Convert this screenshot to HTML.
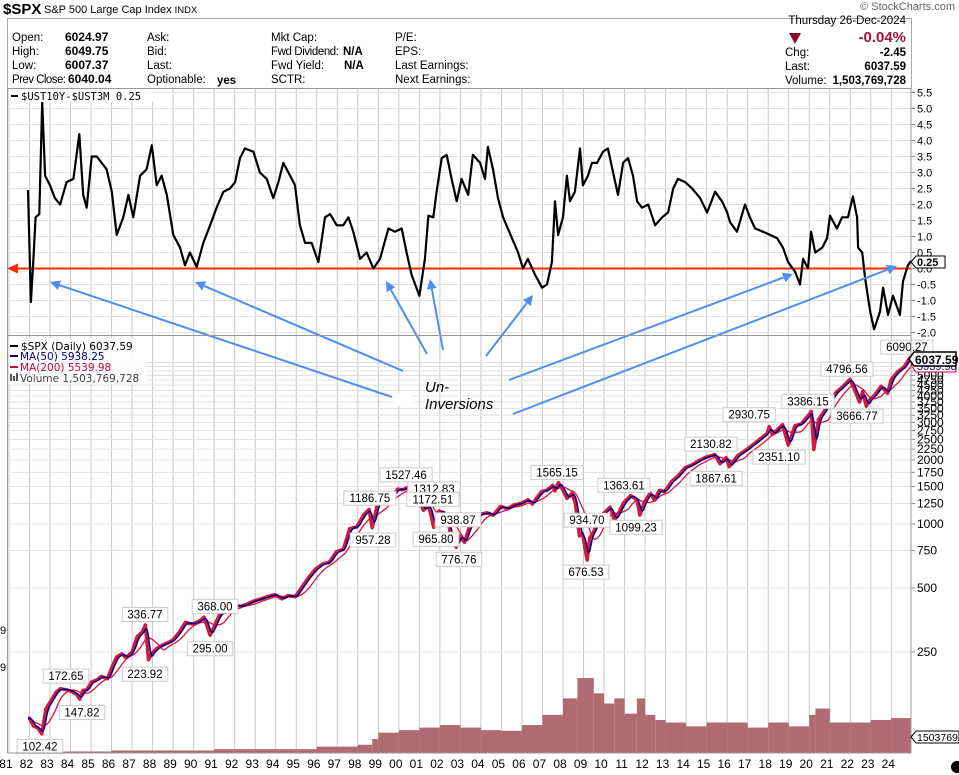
<!DOCTYPE html>
<html><head><meta charset="utf-8"><style>
body{margin:0;background:#fff;width:959px;height:775px;overflow:hidden;font-family:"Liberation Sans",Arial,sans-serif}
svg{position:absolute;left:0;top:0}
</style></head><body>
<svg id="c" width="959" height="775" xmlns="http://www.w3.org/2000/svg" font-family="Liberation Sans, Arial, sans-serif">
<g>
<text x="3" y="14" font-size="15" font-weight="bold">$SPX</text>
<text x="44" y="13" font-size="11">S&amp;P 500 Large Cap Index <tspan font-size="9.5">INDX</tspan></text>
<text x="955" y="10" font-size="11" fill="#666" text-anchor="end">© StockCharts.com</text>
<rect x="7.5" y="18.5" width="904" height="70" fill="none" stroke="#aaa"/>
<g font-size="11.5">
<text x="12" y="41">Open:</text><text x="65" y="41" font-weight="bold" font-size="12">6024.97</text>
<text x="12" y="55">High:</text><text x="65" y="55" font-weight="bold" font-size="12">6049.75</text>
<text x="12" y="69">Low:</text><text x="65" y="69" font-weight="bold" font-size="12">6007.37</text>
<text x="12" y="83" textLength="54">Prev Close:</text><text x="68" y="83" font-weight="bold" font-size="12">6040.04</text>
<text x="147" y="41">Ask:</text><text x="147" y="55">Bid:</text><text x="147" y="69">Last:</text><text x="147" y="83">Optionable:</text><text x="217" y="84" font-weight="bold">yes</text>
<text x="271" y="41">Mkt Cap:</text><text x="271" y="55" textLength="68">Fwd Dividend:</text><text x="343" y="55" font-weight="bold">N/A</text>
<text x="271" y="69">Fwd Yield:</text><text x="344" y="69" font-weight="bold">N/A</text><text x="271" y="83">SCTR:</text>
<text x="395" y="41">P/E:</text><text x="395" y="55">EPS:</text><text x="395" y="69">Last Earnings:</text><text x="395" y="83">Next Earnings:</text>
<text x="906" y="24" text-anchor="end">Thursday  26-Dec-2024</text>
<path d="M789 33 L801 33 L795 44 Z" fill="#8b0a2a"/>
<text x="906" y="42" text-anchor="end" font-size="15" font-weight="bold" fill="#a0153e">-0.04%</text>
<text x="785" y="56">Chg:</text><text x="906" y="56" text-anchor="end" font-weight="bold">-2.45</text>
<text x="785" y="70">Last:</text><text x="906" y="70" text-anchor="end" font-weight="bold">6037.59</text>
<text x="785" y="84">Volume:</text><text x="906" y="84" text-anchor="end" font-weight="bold">1,503,769,728</text>
</g></g>
<g id="grid"></g>
<g id="vol"></g>
<g id="top"></g>
<g id="bot"></g>
<g id="ann"></g>
<g id="axes"></g>
</svg>
<script>
const spreadDates=[1981.93,1982.07,1982.19,1982.30,1982.48,1982.62,1982.76,1983.0,1983.24,1983.49,1983.81,1984.14,1984.43,1984.62,1984.79,1985.03,1985.28,1985.52,1985.76,1986.01,1986.25,1986.57,1986.82,1987.06,1987.39,1987.71,1987.96,1988.20,1988.44,1988.69,1989.01,1989.34,1989.58,1989.82,1990.15,1990.47,1990.80,1991.12,1991.45,1991.77,1992.02,1992.26,1992.50,1992.91,1993.23,1993.56,1993.88,1994.13,1994.37,1994.70,1994.94,1995.18,1995.43,1995.75,1996.08,1996.40,1996.65,1996.97,1997.29,1997.54,1997.78,1998.11,1998.43,1998.76,1999.08,1999.49,1999.81,2000.14,2000.38,2000.62,2001.0,2001.27,2001.44,2001.68,2001.84,2002.09,2002.33,2002.57,2002.82,2003.06,2003.38,2003.61,2003.96,2004.20,2004.34,2004.59,2004.83,2005.08,2005.51,2005.81,2006.05,2006.29,2006.64,2006.98,2007.22,2007.46,2007.61,2007.76,2008.0,2008.19,2008.34,2008.58,2008.83,2008.97,2009.22,2009.41,2009.66,2009.95,2010.19,2010.44,2010.68,2010.93,2011.17,2011.41,2011.61,2011.85,2012.15,2012.49,2012.83,2013.12,2013.37,2013.60,2013.95,2014.29,2014.68,2015.02,2015.41,2015.75,2016.0,2016.14,2016.48,2016.87,2017.11,2017.36,2017.75,2018.09,2018.43,2018.72,2018.97,2019.31,2019.55,2019.70,2019.94,2020.09,2020.29,2020.63,2020.87,2021.01,2021.35,2021.60,2021.89,2022.13,2022.33,2022.38,2022.58,2022.72,2022.97,2023.16,2023.45,2023.60,2023.84,2024.08,2024.42,2024.57,2024.81,2024.98];
const spreadVals=[2.45,-1.05,0.3,1.6,1.7,5.2,2.9,2.6,2.2,2.0,2.7,2.8,4.2,2.3,1.9,3.5,3.5,3.3,3.1,2.4,1.05,1.6,2.3,1.6,2.9,3.1,3.85,2.6,2.9,2.3,1.05,0.65,0.1,0.5,0.05,0.8,1.35,1.9,2.4,2.5,2.7,3.45,3.75,3.65,3.0,2.8,2.2,2.7,3.3,2.9,2.6,1.35,0.8,0.8,0.2,1.6,1.7,1.35,1.35,1.6,1.15,0.3,0.5,0.0,0.3,1.25,1.15,1.25,0.5,-0.2,-0.85,0.3,1.65,1.6,2.4,3.45,3.55,2.8,2.1,2.8,2.3,3.55,3.3,2.8,3.8,3.1,2.2,1.6,0.95,0.5,0.0,0.3,-0.2,-0.6,-0.5,0.2,2.1,1.05,1.6,2.9,2.1,2.4,3.75,2.6,2.9,3.3,3.3,3.65,3.75,3.0,2.3,3.3,3.45,2.9,2.1,1.9,2.0,1.35,1.6,1.75,2.5,2.8,2.7,2.5,2.2,1.75,2.4,2.1,1.75,1.45,1.15,2.0,1.6,1.25,1.15,1.05,0.95,0.65,0.2,-0.1,-0.5,0.3,0.0,1.15,0.5,0.65,0.95,1.65,1.25,1.6,1.6,2.25,1.6,0.65,0.5,-0.3,-1.35,-1.9,-1.35,-0.6,-1.45,-0.85,-1.45,-0.4,0.1,0.25];
const priceDates=[1981.93,1982.0,1982.2,1982.4,1982.6,1982.8,1983.0,1983.3,1983.5,1983.8,1984.0,1984.3,1984.45,1984.6,1984.8,1985.0,1985.3,1985.5,1985.8,1986.0,1986.25,1986.5,1986.7,1987.0,1987.25,1987.5,1987.65,1987.8,1987.95,1988.2,1988.5,1988.8,1989.0,1989.3,1989.6,1989.8,1990.0,1990.3,1990.5,1990.8,1991.0,1991.3,1991.6,1991.95,1992.3,1992.6,1992.95,1993.3,1993.6,1993.95,1994.3,1994.6,1994.95,1995.3,1995.6,1995.95,1996.3,1996.6,1996.95,1997.3,1997.6,1997.95,1998.3,1998.55,1998.7,1998.95,1999.3,1999.6,1999.95,2000.2,2000.45,2000.7,2000.95,2001.2,2001.45,2001.7,2001.95,2002.2,2002.45,2002.55,2002.7,2002.8,2002.95,2003.2,2003.45,2003.7,2003.95,2004.3,2004.6,2004.95,2005.3,2005.6,2005.95,2006.3,2006.5,2006.95,2007.2,2007.5,2007.6,2007.78,2007.95,2008.2,2008.45,2008.6,2008.8,2008.95,2009.1,2009.18,2009.3,2009.5,2009.7,2009.95,2010.3,2010.5,2010.7,2010.95,2011.3,2011.6,2011.75,2011.95,2012.25,2012.45,2012.7,2012.95,2013.3,2013.6,2013.95,2014.3,2014.6,2014.95,2015.4,2015.65,2015.95,2016.1,2016.5,2016.95,2017.4,2017.95,2018.05,2018.2,2018.7,2018.98,2019.3,2019.6,2019.95,2020.1,2020.22,2020.45,2020.7,2020.95,2021.3,2021.6,2021.99,2022.2,2022.45,2022.6,2022.78,2022.95,2023.2,2023.5,2023.82,2023.99,2024.3,2024.6,2024.93,2024.98];
const priceVals=[122,122,112,110,103,135,145,162,168,166,164,158,150,165,166,180,185,192,187,210,237,245,235,250,295,310,335,230,245,260,270,278,285,310,345,340,340,350,365,300,330,380,385,415,410,420,435,445,455,465,445,460,455,510,560,615,650,660,740,760,950,970,1110,1170,960,1230,1300,1330,1460,1450,1490,1450,1320,1160,1230,965,1150,1130,990,800,830,777,880,820,975,1020,1110,1130,1100,1210,1180,1230,1250,1300,1240,1420,1440,1520,1430,1565,1470,1320,1400,1250,880,900,740,677,860,920,1050,1115,1200,1040,1120,1257,1360,1300,1100,1260,1400,1300,1440,1420,1590,1680,1840,1900,1980,2060,2120,1920,2050,1860,2090,2240,2420,2670,2870,2640,2930,2350,2900,2950,3230,3386,2240,3100,3350,3700,4150,4400,4790,4300,3750,4200,3580,3850,4050,4450,4120,4770,5200,5450,6090,6037.59];
const volDates=[1981.93,1983,1986,1991,1996,1998,1998.7,1999,2000,2001,2002,2003,2004,2005,2006,2007,2008,2008.7,2009,2009.5,2010,2010.5,2011,2011.6,2012,2012.5,2013,2014,2015,2016,2017,2018,2019,2020,2020.3,2021,2022,2023,2024];
const volVals=[0.08,0.12,0.2,0.3,0.5,0.65,1.1,1.6,1.8,2.0,2.2,2.0,1.8,1.75,2.2,3.0,4.3,5.9,5.9,4.7,3.9,4.3,3.1,4.3,3.0,2.6,2.4,2.1,2.4,2.4,2.0,2.4,2.1,3.0,3.5,2.4,2.4,2.6,2.75];
const spreadTicks=[5.5,5.0,4.5,4.0,3.5,3.0,2.5,2.0,1.5,1.0,0.5,0.0,-0.5,-1.0,-1.5,-2.0];
const priceTicks=[250,500,750,1000,1250,1500,1750,2000,2250,2500,2750,3000,3250,3500,3750,4000,4250,4500,4750,5000,5250,5500,5750];
const yearLabels=["81","82","83","84","85","86","87","88","89","90","91","92","93","94","95","96","97","98","99","00","01","02","03","04","05","06","07","08","09","10","11","12","13","14","15","16","17","18","19","20","21","22","23","24"];
const peakLabels=["336.77","368.00","295.00","223.92","172.65","147.82","102.42","1186.75","957.28","1527.46","1312.83","1172.51","938.87","965.80","776.76","1565.15","934.70","676.53","1363.61","1099.23","2130.82","1867.61","2930.75","2351.10","3386.15","3666.77","4796.56","6090.27"];
const peakDates=[1987.63,1991.04,1990.80,1987.63,1983.78,1984.56,1982.51,1998.59,1998.74,2000.35,2001.71,2001.66,2002.88,2001.81,2002.93,2007.71,2009.17,2009.12,2010.97,2011.56,2015.21,2015.46,2017.07,2018.53,2019.94,2022.33,2021.84,2024.76];
const peakAbove=[1,1,0,0,1,0,0,1,0,1,1,1,1,0,0,1,1,0,1,0,1,0,1,0,1,0,1,1];

const NS="http://www.w3.org/2000/svg";
const L=7.5,R=911,T=88,MID=335,B=753;
const xS=t=>50+(t-1983)*20.52;
const yT=v=>268.5-v*32;
const yP=v=>524-64*Math.log2(v/1000);
const yV=v=>B-v*12.7;
function mk(tag,attrs,parent){const e=document.createElementNS(NS,tag);for(const k in attrs)e.setAttribute(k,attrs[k]);parent.appendChild(e);return e;}
const grid=document.getElementById('grid'),top_=document.getElementById('top'),bot=document.getElementById('bot'),vol=document.getElementById('vol'),ann=document.getElementById('ann'),axes=document.getElementById('axes');

yearLabels.forEach((lab,i)=>{const x=xS(1981+i);
 if(x>L&&x<R){const g=mk('line',{x1:x,x2:x,y1:T,y2:B,stroke:'#c8c8c8','stroke-width':1},grid);
 
 }
 const t=mk('text',{x:Math.max(x-3,4),y:768,'font-size':12,'text-anchor':'middle'},axes);t.textContent=lab;
 
 
});
spreadTicks.forEach(v=>{const y=yT(v);
 const g=mk('line',{x1:L,x2:R,y1:y,y2:y,stroke:'#e0e0e0'},grid);
 
 
 mk('line',{x1:R,x2:R+4,y1:y,y2:y,stroke:'#888'},axes);
 const t=mk('text',{x:917,y:y+4,'font-size':11},axes);t.textContent=v.toFixed(1);
 
 
});
priceTicks.forEach(v=>{const y=yP(v);
 const g=mk('line',{x1:L,x2:R,y1:y,y2:y,stroke:'#e0e0e0'},grid);
 
 
 mk('line',{x1:R,x2:R+4,y1:y,y2:y,stroke:'#888'},axes);
 if(v<=5000||v===5750){const t=mk('text',{x:917,y:y+4,'font-size':12},axes);t.textContent=v;
 
 }
});
volDates.forEach((d,i)=>{const x1=Math.max(xS(d),L),x2=i<volDates.length-1?xS(volDates[i+1]):R;
 const b=mk('rect',{x:x1,y:yV(volVals[i]),width:x2-x1,height:B-yV(volVals[i]),fill:'#b06a72'},vol);
 
 
});
const zl=mk('line',{x1:13,x2:R,y1:yT(0),y2:yT(0),stroke:'#ff2a00','stroke-width':2},top_);


const za=mk('path',{d:`M7 ${yT(0)} L18 ${yT(0)-5} L18 ${yT(0)+5}Z`,fill:'#ff2a00'},top_);


const sp=mk('path',{d:spreadDates.map((d,i)=>(i?'L':'M')+xS(d).toFixed(1)+' '+yT(spreadVals[i]).toFixed(1)).join(''),fill:'none',stroke:'#000','stroke-width':2.2,'stroke-linejoin':'round'},top_);


function interp(t){if(t<=priceDates[0])return priceVals[0];for(let i=1;i<priceDates.length;i++)if(t<=priceDates[i]){const f=(t-priceDates[i-1])/(priceDates[i]-priceDates[i-1]);return priceVals[i-1]+f*(priceVals[i]-priceVals[i-1]);}return priceVals[priceVals.length-1];}
function ma(w){const pts=[];const t0=priceDates[0],t1=priceDates[priceDates.length-1];for(let t=t0;t<=t1+1e-9;t+=0.04){let s=0,n=0;for(let u=Math.max(t0,t-w);u<=t;u+=0.01){s+=interp(u);n++;}pts.push([t,s/n]);}return pts;}
const pth=(pts)=>pts.map((p,i)=>(i?'L':'M')+xS(p[0]).toFixed(1)+' '+yP(p[1]).toFixed(1)).join('');
const pr=mk('path',{d:priceDates.map((d,i)=>(i?'L':'M')+xS(d).toFixed(1)+' '+yP(priceVals[i]).toFixed(1)).join(''),fill:'none',stroke:'#d21a3c','stroke-width':3.5,'stroke-linejoin':'round'},bot);


const m200=mk('path',{d:pth(ma(0.8)),fill:'none',stroke:'#e0103a','stroke-width':1.3},bot);


const m50=mk('path',{d:pth(ma(0.2)),fill:'none',stroke:'#00008b','stroke-width':1.5},bot);


peakLabels.forEach((lab,i)=>{const cx=xS(peakDates[i]);const v=parseFloat(lab);const cy=yP(v)+(peakAbove[i]?-10:12);
 const w=lab.length*6.6+6;
 const g=mk('g',{},ann);
 
 
 mk('rect',{x:cx-w/2,y:cy-7,width:w,height:14,fill:'#fff',stroke:'#ccc'},g);
 const t=mk('text',{x:cx,y:cy+4,'font-size':11.5,'text-anchor':'middle'},g);t.textContent=lab;
});
const arrows=[[392,397,50,282],[403,371,195,282],[427,354,386,281],[443,350,430,279],[486,356,533,295],[509,380,793,274],[513,414,897,266]];
arrows.forEach(a=>{const g=mk('g',{},ann);
 
 
 const ang=Math.atan2(a[3]-a[1],a[2]-a[0]);const hx=a[2]-10*Math.cos(ang),hy=a[3]-10*Math.sin(ang);
 mk('line',{x1:a[0],y1:a[1],x2:hx,y2:hy,stroke:'#4d8ff0','stroke-width':2},g);
 const p=(d)=>[hx+5*Math.cos(ang+d),hy+5*Math.sin(ang+d)];const p1=p(Math.PI/2),p2=p(-Math.PI/2);
 mk('path',{d:`M${a[2]} ${a[3]}L${p1[0]} ${p1[1]}L${p2[0]} ${p2[1]}Z`,fill:'#4d8ff0'},g);
});
</script>
<svg width="959" height="775" xmlns="http://www.w3.org/2000/svg" font-family="Liberation Sans, Arial, sans-serif" style="pointer-events:none">
<rect x="7.5" y="88.5" width="903.5" height="664.5" fill="none" stroke="#999"/>
<line x1="7.5" x2="911" y1="335.5" y2="335.5" stroke="#999"/>
<g><rect x="9" y="89" width="145" height="13" fill="#fff"/><line x1="11" x2="18" y1="96" y2="96" stroke="#000" stroke-width="2"/><text x="21" y="100" font-family="DejaVu Sans Mono, Liberation Mono, monospace" font-size="10.5">$UST10Y-$UST3M 0.25</text></g>
<g font-family="DejaVu Sans, sans-serif" font-size="10.5">
<rect x="9" y="338" width="138" height="46" fill="#fff" opacity="0.9"/>
<line x1="10" x2="18" y1="346" y2="346" stroke="#000" stroke-width="2"/><text x="21" y="350">$SPX (Daily) 6037.59</text>
<line x1="10" x2="18" y1="356" y2="356" stroke="#000080" stroke-width="2"/><text x="20" y="360" fill="#000080">MA(50) 5938.25</text>
<line x1="10" x2="18" y1="367" y2="367" stroke="#cc0033" stroke-width="2"/><text x="20" y="371" fill="#cc0033">MA(200) 5539.98</text>
<rect x="10" y="374" width="2" height="7" fill="#555"/><rect x="13" y="376" width="2" height="5" fill="#555"/><rect x="16" y="373" width="2" height="8" fill="#555"/><text x="20" y="382" fill="#444">Volume 1,503,769,728</text></g>
<g><rect x="392" y="393" width="21" height="13" fill="#fff"/><text x="425" y="392" font-size="15" font-style="italic">Un-</text><text x="425" y="409" font-size="15" font-style="italic">Inversions</text></g>
<g><path d="M911 262 L916 256 L945 256 L945 268 L916 268Z" fill="#fff" stroke="#000"/><text x="917" y="266" font-size="11" font-weight="bold">0.25</text></g>
<g><path d="M911 365 L916 359 L956 359 L956 372 L916 372Z" fill="#fff" stroke="#cc0033"/><text x="917" y="370" font-size="11" fill="#000080">5939.98</text></g>
<g><path d="M909 359 L914 352 L956 352 L956 366 L914 366Z" fill="#fff" stroke="#000" stroke-width="1.5"/><text x="915" y="364" font-size="12" font-weight="bold">6037.59</text></g>
<g><path d="M911 737 L916 731 L959 731 L959 743 L916 743Z" fill="#fff" stroke="#000"/><text x="917" y="741" font-size="10.5">15037697</text></g>
<text x="0" y="634" font-size="11">9</text>
<text x="0" y="671" font-size="11">9</text>
<circle cx="957" cy="767" r="6" fill="#000"/>
</svg>
</body></html>
